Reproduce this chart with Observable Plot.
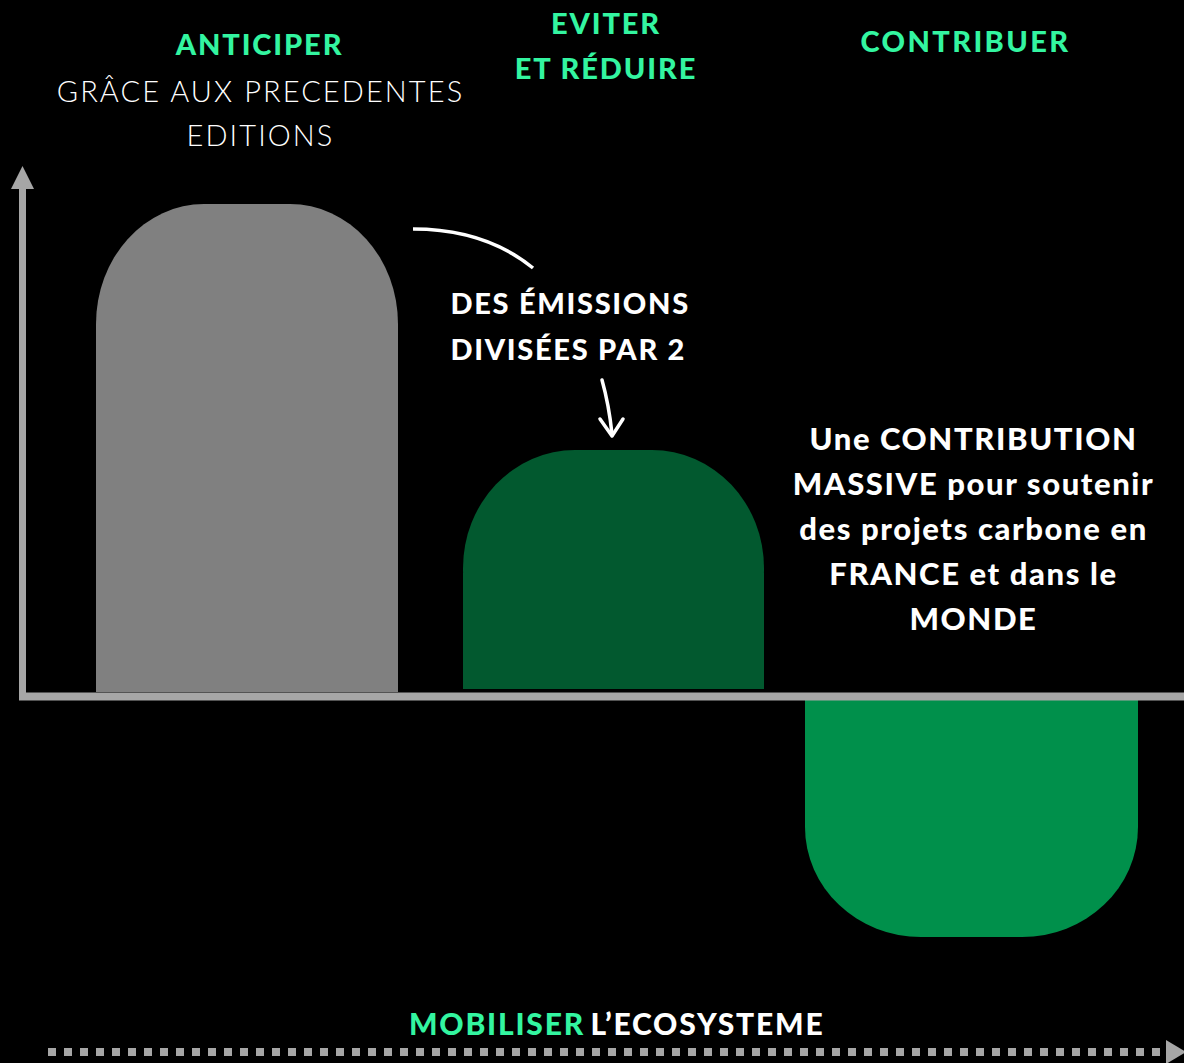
<!DOCTYPE html>
<html><head><meta charset="utf-8">
<script src="https://cdn.jsdelivr.net/npm/d3@7"></script>
<script src="https://cdn.jsdelivr.net/npm/@observablehq/plot@0.6"></script>
<style>
html,body{margin:0;padding:0;background:#000;}
#chart svg{display:block;}
</style></head><body><div id="chart"></div>
<script>
// ---- data ----
const categories = ["ANTICIPER", "EVITER\nET RÉDUIRE", "CONTRIBUER"];
const values = [100, 50, -49];
const subtitleLines = ["GRÂCE AUX PRECEDENTES", "EDITIONS"];
const noteLeft = ["DES ÉMISSIONS", "DIVISÉES PAR 2"];
const noteRight = ["Une CONTRIBUTION", "MASSIVE pour soutenir", "des projets carbone en", "FRANCE et dans le", "MONDE"];
const footerGreen = "MOBILISER";
const footerWhite = "L’ECOSYSTEME";

// ---- styles ----
const GREEN_TEXT = "#33f5a0";
const AXIS = "#a6a6a6";
const barFill = ["#808080", "#02592f", "#00904b"];
const barInset = [
  {insetLeft: 0, insetRight: 46, insetTop: 0, insetBottom: 4, rx: 108, ry: 120},
  {insetLeft: 19, insetRight: 28, insetTop: 0, insetBottom: 7, rx: 112, ry: 118},
  {insetLeft: 13, insetRight: 2, insetTop: 4, insetBottom: 0, rx: 116, ry: 110}
];
const headerDx = [-11, -12.5, -1];
const headerDy = [23, 2, 20];
const BOLD = "Lato, 'Noto Sans', sans-serif";
// letter-spacing per text mark, in mark order
const spacing = [1.9, 1.9, 2.4, 2.1, 1.7, 1.6, 1.8, 1.8];

const data = categories.map((c, i) => ({cat: c, value: values[i], i}));

const barMarks = data.flatMap((d) => {
  const s = barInset[d.i];
  return [
    Plot.barY([d], {x: "cat", y1: 0, y2: "value", fill: barFill[d.i], ...s}),
    Plot.barY([d], {x: "cat", y1: 0, y2: (e) => e.value / 2, fill: barFill[d.i],
      insetLeft: s.insetLeft, insetRight: s.insetRight, insetTop: s.insetTop, insetBottom: s.insetBottom})
  ];
});

const headerMarks = data.map((d) =>
  Plot.text([d], {x: "cat", text: "cat", frameAnchor: "top", lineAnchor: "top",
    dy: headerDy[d.i], dx: headerDx[d.i],
    fill: GREEN_TEXT, fontSize: 29, fontWeight: 900, fontFamily: BOLD, lineHeight: 1.55})
);

const chart = Plot.plot({
  width: 1184, height: 1063,
  marginLeft: 19, marginRight: 0, marginTop: 0, marginBottom: 0,
  style: {background: "#000", color: "#fff"},
  x: {type: "band", domain: categories, range: [95, 1140], padding: 0, axis: null},
  y: {domain: [-100, 100], range: [1188, 204], axis: null},
  marks: [
    ...barMarks,
    Plot.ruleY([0], {stroke: AXIS, strokeWidth: 8}),
    ...headerMarks,
    Plot.text([subtitleLines.join("\n")], {x: () => categories[0], text: (d) => d, frameAnchor: "top", lineAnchor: "top",
      dy: 70, dx: -10, fill: "#fff", fontSize: 29, fontWeight: 300, fontFamily: "Lato, sans-serif", lineHeight: 1.52}),
    Plot.text([noteLeft.join("\n")], {x: () => categories[1], text: (d) => d, frameAnchor: "top", lineAnchor: "top", textAnchor: "start",
      dy: 281, dx: -168, fill: "#fff", fontSize: 29, fontWeight: 900, fontFamily: BOLD, lineHeight: 1.59}),
    Plot.text([noteRight.join("\n")], {x: () => categories[2], text: (d) => d, frameAnchor: "top", lineAnchor: "top",
      dy: 418, dx: 7, fill: "#fff", fontSize: 31, fontWeight: 900, fontFamily: BOLD, lineHeight: 1.45}),
    Plot.text([footerGreen], {text: (d) => d, frameAnchor: "top", lineAnchor: "top", textAnchor: "end",
      dy: 1013, dx: -17, fill: GREEN_TEXT, fontSize: 30, fontWeight: 900, fontFamily: BOLD}),
    Plot.text([footerWhite], {text: (d) => d, frameAnchor: "top", lineAnchor: "top", textAnchor: "start",
      dy: 1013, dx: -11.5, fill: "#fff", fontSize: 30, fontWeight: 900, fontFamily: BOLD})
  ]
});

const svg = d3.select(chart);
// apply letter spacing to the text marks (wider display face in the original)
svg.selectAll("g[aria-label='text']").each(function (_, k) {
  if (spacing[k] != null) this.setAttribute("letter-spacing", spacing[k]);
});

// ---- decorations (axis arrows, annotation strokes) ----
const deco = svg.append("g");
deco.append("line").attr("x1", 22.5).attr("x2", 22.5).attr("y1", 186).attr("y2", 700)
  .attr("stroke", AXIS).attr("stroke-width", 7);
deco.append("path").attr("d", "M11,189 L34,189 L22.5,166 Z").attr("fill", AXIS);
deco.append("line").attr("x1", 48).attr("x2", 1162).attr("y1", 1052).attr("y2", 1052)
  .attr("stroke", AXIS).attr("stroke-width", 8).attr("stroke-dasharray", "8 8");
deco.append("path").attr("d", "M1166,1040 L1186,1052 L1166,1064 Z").attr("fill", AXIS);
deco.append("path").attr("d", "M413,229 Q485,229 533,268")
  .attr("fill", "none").attr("stroke", "#fff").attr("stroke-width", 3.5);
deco.append("path").attr("d", "M602,380 Q609,405 612,434")
  .attr("fill", "none").attr("stroke", "#fff").attr("stroke-width", 3.5).attr("stroke-linecap", "round");
deco.append("path").attr("d", "M600,419 L612,436 L623,419")
  .attr("fill", "none").attr("stroke", "#fff").attr("stroke-width", 3.5).attr("stroke-linecap", "round").attr("stroke-linejoin", "round");

document.getElementById("chart").appendChild(chart);
</script></body></html>
